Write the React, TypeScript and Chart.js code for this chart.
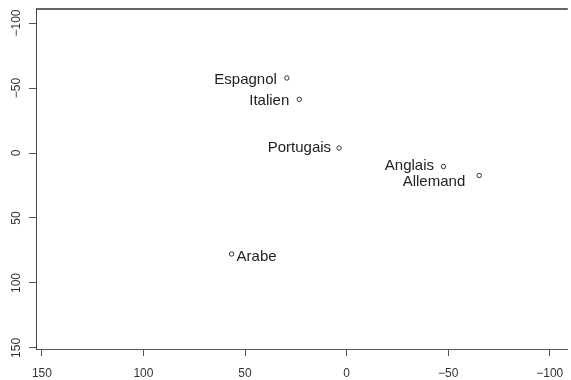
import React, { useEffect, useRef } from "react";
import { Chart, registerables } from "chart.js";

Chart.register(...registerables);

// Language positions on the first two dimensions
const languages = ["Espagnol", "Italien", "Portugais", "Anglais", "Allemand", "Arabe"];
const dim1 = [29.4, 23.3, 3.7, -47.7, -65.3, 56.6];
const dim2 = [-57.7, -41.3, -3.8, 10.4, 17.3, 77.7];

const xTicks = [150, 100, 50, 0, -50, -100];
const yTicks = [-100, -50, 0, 50, 100, 150];

// Where each name sits relative to its point (text alignment + pixel nudge)
const labelOffsets = [
  { align: "right", dx: -10, dy: 6.4 },
  { align: "right", dx: -10, dy: 5.7 },
  { align: "right", dx: -8, dy: 3.5 },
  { align: "right", dx: -9.5, dy: 3 },
  { align: "right", dx: -14, dy: 11 },
  { align: "left", dx: 5, dy: 7.2 },
];

const FONT = '"Liberation Sans", Arial, Helvetica, sans-serif';
const fmt = (v: number) => (v < 0 ? "\u2212" + Math.abs(v) : String(v));

const annotations = {
  id: "annotations",
  afterDraw(chart: any) {
    const ctx = chart.ctx as CanvasRenderingContext2D;
    const { left, right, top } = chart.chartArea;
    const xs = chart.scales.x;
    const ys = chart.scales.y;
    ctx.save();

    // upper frame line
    ctx.strokeStyle = "#333";
    ctx.lineWidth = 1.5;
    ctx.beginPath();
    ctx.moveTo(left, top);
    ctx.lineTo(right, top);
    ctx.stroke();

    // axis tick labels
    ctx.font = `12px ${FONT}`;
    ctx.fillStyle = "#333";
    ctx.textAlign = "center";
    ctx.textBaseline = "alphabetic";
    yTicks.forEach((v) => {
      const py = ys.getPixelForValue(v);
      ctx.save();
      ctx.translate(20, py);
      ctx.rotate(-Math.PI / 2);
      ctx.fillText(fmt(v), 0, 0);
      ctx.restore();
    });
    xTicks.forEach((v) => {
      const px = xs.getPixelForValue(v);
      ctx.fillText(fmt(v), px, 377);
    });

    // point names
    ctx.font = `15px ${FONT}`;
    ctx.fillStyle = "#222";
    const meta = chart.getDatasetMeta(0);
    meta.data.forEach((pt: any, i: number) => {
      const o = labelOffsets[i];
      ctx.textAlign = o.align as CanvasTextAlign;
      ctx.fillText(languages[i], pt.x + o.dx, pt.y + o.dy);
    });
    ctx.restore();
  },
};

export default function App() {
  const canvasRef = useRef<HTMLCanvasElement | null>(null);

  useEffect(() => {
    if (!canvasRef.current) return;
    const chart = new Chart(canvasRef.current, {
      type: "scatter",
      data: {
        datasets: [
          {
            data: dim1.map((x, i) => ({ x, y: dim2[i] })),
            pointRadius: 2.2,
            pointBorderWidth: 1,
            pointBorderColor: "#333",
            pointBackgroundColor: "rgba(0,0,0,0)",
            pointHoverRadius: 2.2,
          },
        ],
      },
      options: {
        animation: false,
        responsive: false,
        devicePixelRatio: 1,
        layout: { padding: { top: 9, right: 0, left: 0, bottom: 0 } },
        plugins: { legend: { display: false }, tooltip: { enabled: false } },
        events: [],
        scales: {
          x: {
            type: "linear",
            reverse: true,
            min: -108.9,
            max: 152.9,
            afterBuildTicks: (s: any) => {
              s.ticks = xTicks.map((v) => ({ value: v }));
            },
            afterFit: (s: any) => {
              s.height = 31;
            },
            ticks: { display: false },
            grid: { drawOnChartArea: false, drawTicks: true, tickLength: 7, color: "#555" },
            border: { display: true, color: "#555", width: 1 },
          },
          y: {
            type: "linear",
            reverse: true,
            min: -110.8,
            max: 150.8,
            afterBuildTicks: (s: any) => {
              s.ticks = yTicks.map((v) => ({ value: v }));
            },
            afterFit: (s: any) => {
              s.width = 36;
            },
            ticks: { display: false },
            grid: { drawOnChartArea: false, drawTicks: true, tickLength: 7, color: "#555" },
            border: { display: true, color: "#444", width: 1 },
          },
        },
      },
      plugins: [annotations],
    });
    return () => chart.destroy();
  }, []);

  return (
    <div style={{ position: "fixed", left: 0, top: 0, width: 571, height: 380, background: "#fff" }}>
      <canvas ref={canvasRef} width={571} height={380} />
    </div>
  );
}
